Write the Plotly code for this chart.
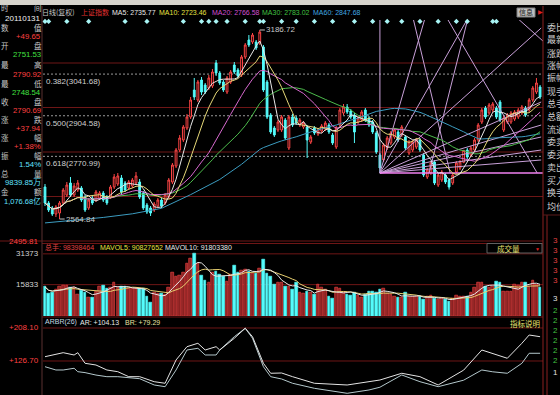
import plotly.graph_objects as go
import pandas as pd

W, H = 560, 395

# ---------------- data ----------------
opens = [2670.2, 2617.5, 2601.1, 2581.3, 2584.6, 2617.5, 2643.8, 2683.3, 2643.8, 2660.3,
         2666.9, 2637.3, 2601.1, 2634.0, 2627.4, 2634.0, 2650.4, 2637.3, 2637.3, 2670.2,
         2680.0, 2699.8, 2683.3, 2666.9, 2673.5, 2683.3, 2686.6, 2650.4, 2610.9, 2601.1,
         2594.5, 2607.7, 2627.4, 2617.5, 2637.3, 2686.6, 2739.3, 2791.9, 2824.8, 2864.3,
         2900.5, 2989.3, 2956.4, 3022.2, 3005.8, 2995.9, 3002.5, 3078.1, 3045.2, 3015.6,
         2982.7, 3015.6, 3071.6, 3055.1, 3038.7, 3097.9, 3153.8, 3147.2, 3147.2, 3143.9,
         3130.8, 3015.6, 2907.0, 2864.3, 2857.7, 2857.7, 2890.6, 2798.5, 2900.5, 2897.2,
         2874.1, 2867.6, 2867.6, 2818.2, 2864.3, 2844.5, 2854.4, 2861.0, 2874.1, 2841.2,
         2801.8, 2874.1, 2913.6, 2933.4, 2920.2, 2907.0, 2884.0, 2890.6, 2923.5, 2897.2,
         2884.0, 2847.8, 2775.4, 2759.0, 2798.5, 2814.9, 2834.7, 2851.1, 2841.2, 2834.7,
         2782.0, 2791.9, 2801.8, 2824.8, 2775.4, 2703.1, 2716.2, 2752.4, 2676.7, 2693.2,
         2709.6, 2693.2, 2683.3, 2719.5, 2732.7, 2751.53, 2791.9, 2775.4, 2791.9, 2824.8,
         2884.0, 2930.1, 2913.6, 2923.5, 2930.1, 2949.8, 2857.7, 2884.0, 2884.0, 2893.9,
         2900.5, 2913.6, 2930.1, 2923.5, 2956.4, 2982.7, 2999.2]
highs = [2680.0, 2624.1, 2607.7, 2610.9, 2624.1, 2666.9, 2686.6, 2703.1, 2683.3, 2693.2,
         2673.5, 2643.8, 2634.0, 2640.6, 2660.3, 2657.0, 2657.0, 2643.8, 2676.7, 2712.9,
         2716.2, 2709.6, 2689.9, 2693.2, 2699.8, 2719.5, 2696.5, 2657.0, 2617.5, 2607.7,
         2620.8, 2634.0, 2634.0, 2650.4, 2699.8, 2749.1, 2798.5, 2841.2, 2874.1, 2910.3,
         2966.3, 3028.8, 3022.2, 3032.1, 3012.3, 3038.7, 3058.4, 3088.0, 3051.8, 3022.2,
         3035.4, 3055.1, 3081.4, 3061.7, 3104.5, 3143.9, 3170.2, 3176.8, 3153.8, 3186.72,
         3137.4, 3022.2, 2913.6, 2870.9, 2890.6, 2907.0, 2897.2, 2907.0, 2910.3, 2903.8,
         2897.2, 2887.3, 2874.1, 2841.2, 2870.9, 2864.3, 2877.4, 2887.3, 2880.7, 2847.8,
         2870.9, 2930.1, 2943.2, 2943.2, 2926.8, 2913.6, 2903.8, 2923.5, 2930.1, 2903.8,
         2890.6, 2854.4, 2782.0, 2814.9, 2838.0, 2854.4, 2864.3, 2857.7, 2874.1, 2841.2,
         2824.8, 2824.8, 2831.4, 2831.4, 2782.0, 2732.7, 2755.7, 2759.0, 2716.2, 2726.1,
         2716.2, 2699.8, 2716.2, 2755.7, 2759.0, 2790.92, 2798.5, 2805.1, 2831.4, 2880.7,
         2930.1, 2936.7, 2946.5, 2949.8, 2936.7, 2956.4, 2903.8, 2913.6, 2920.2, 2923.5,
         2930.1, 2939.9, 2936.7, 2963.0, 3002.5, 3028.8, 3005.8]
lows = [2607.7, 2587.9, 2574.8, 2571.5, 2564.84, 2610.9, 2637.3, 2637.3, 2637.3, 2653.7,
        2620.8, 2587.9, 2594.5, 2610.9, 2620.8, 2627.4, 2620.8, 2610.9, 2630.7, 2663.6,
        2673.5, 2647.1, 2653.7, 2660.3, 2666.9, 2676.7, 2630.7, 2594.5, 2581.3, 2574.8,
        2587.9, 2601.1, 2601.1, 2610.9, 2630.7, 2680.0, 2732.7, 2785.3, 2818.2, 2857.7,
        2893.9, 2956.4, 2949.8, 2972.8, 2976.1, 2989.3, 2995.9, 3035.4, 3005.8, 2982.7,
        2976.1, 3009.0, 3041.9, 3028.8, 3032.1, 3091.3, 3130.8, 3140.6, 3120.9, 3137.4,
        2982.7, 2893.9, 2844.5, 2834.7, 2851.1, 2851.1, 2824.8, 2791.9, 2867.6, 2874.1,
        2867.6, 2861.0, 2765.6, 2811.6, 2841.2, 2838.0, 2847.8, 2854.4, 2844.5, 2808.3,
        2795.2, 2867.6, 2907.0, 2910.3, 2893.9, 2814.9, 2877.4, 2884.0, 2884.0, 2867.6,
        2844.5, 2778.7, 2716.2, 2752.4, 2791.9, 2808.3, 2828.1, 2818.2, 2834.7, 2791.9,
        2775.4, 2785.3, 2795.2, 2785.3, 2703.1, 2696.5, 2709.6, 2676.7, 2670.2, 2686.6,
        2680.0, 2661.45, 2676.7, 2712.9, 2726.1, 2748.54, 2762.3, 2768.9, 2785.3, 2818.2,
        2877.4, 2893.9, 2907.0, 2916.9, 2893.9, 2884.0, 2851.1, 2877.4, 2877.4, 2887.3,
        2893.9, 2907.0, 2900.5, 2916.9, 2949.8, 2976.1, 2959.5]
closes = [2617.5, 2594.5, 2581.3, 2604.4, 2617.5, 2660.3, 2676.7, 2643.8, 2673.5, 2683.3,
          2627.4, 2594.5, 2627.4, 2617.5, 2653.7, 2650.4, 2627.4, 2617.5, 2670.2, 2703.1,
          2706.4, 2653.7, 2660.3, 2686.6, 2693.2, 2706.4, 2637.3, 2601.1, 2587.9, 2584.6,
          2614.2, 2627.4, 2607.7, 2643.8, 2693.2, 2742.5, 2791.9, 2831.4, 2867.6, 2900.5,
          2956.4, 2966.3, 3015.6, 2982.7, 2982.7, 3028.8, 3048.5, 3045.2, 3012.3, 2989.3,
          3028.8, 3048.5, 3048.5, 3035.4, 3097.9, 3137.4, 3137.4, 3170.2, 3127.5, 3180.0,
          2989.3, 2900.5, 2851.1, 2841.2, 2884.0, 2900.5, 2831.4, 2900.5, 2874.1, 2880.7,
          2890.6, 2880.7, 2824.8, 2834.7, 2847.8, 2857.7, 2870.9, 2880.7, 2851.1, 2814.9,
          2864.3, 2923.5, 2933.4, 2916.9, 2900.5, 2851.1, 2897.2, 2916.9, 2890.6, 2874.1,
          2851.1, 2785.3, 2732.7, 2808.3, 2831.4, 2847.8, 2857.7, 2824.8, 2867.6, 2798.5,
          2818.2, 2818.2, 2824.8, 2791.9, 2709.6, 2726.1, 2749.1, 2683.3, 2709.6, 2719.5,
          2686.6, 2670.2, 2709.6, 2749.1, 2752.75, 2790.69, 2768.9, 2798.5, 2824.8, 2874.1,
          2923.5, 2900.5, 2939.9, 2943.2, 2900.5, 2890.6, 2897.2, 2907.0, 2913.6, 2916.9,
          2923.5, 2933.4, 2907.0, 2956.4, 2995.9, 3012.3, 2966.3]
# volume, 万手
volumes = [14700, 11270, 11760, 13230, 14700, 15190, 15190, 14210, 14210, 10780,
           12740, 11760, 9310, 9310, 12250, 14700, 15190, 13720, 14210, 16660,
           14210, 14700, 14700, 13720, 13720, 13720, 13720, 13720, 9800, 6860,
           11760, 11270, 11270, 10780, 14210, 22050, 20090, 20580, 22050, 26460,
           28910, 31360, 26460, 20580, 18130, 17150, 22050, 22540, 21070, 20090,
           17640, 21070, 25480, 22050, 23030, 23520, 22540, 21560, 21560, 24010,
           28420, 21560, 20090, 15680, 16660, 16660, 14700, 14700, 13230, 17150,
           11760, 11270, 12250, 11760, 10780, 15680, 14210, 13230, 9800, 8820,
           14210, 13720, 11760, 10780, 10290, 11760, 10290, 9310, 10780, 12250,
           12250, 11760, 13230, 13720, 11270, 10780, 9800, 9310, 9310, 11760,
           9800, 9800, 9800, 9800, 8330, 9800, 10290, 8820, 8330, 8820,
           8330, 7350, 8820, 10290, 9800, 9839.85, 9800, 11760, 14210, 17150,
           17150, 14700, 14210, 14700, 17640, 16660, 12250, 12250, 12250, 15680,
           15190, 17150, 17150, 14700, 18130, 15680, 14210]

# MA60 before 60 days of history are available
ma60_early_idx = [0, 8, 16, 24, 32, 40, 48, 54]
ma60_early_val = [2552, 2560, 2570, 2582, 2600, 2645, 2695, 2745]

# ARBR(26)
arbr_idx = [0, 3, 5, 8, 9, 11, 14, 17, 20, 23, 26, 30, 33, 36, 39, 42, 44, 47, 48, 52,
            55, 57, 60, 62, 65, 68, 74, 83, 89, 92, 98, 103, 108, 115, 120, 123, 127, 131, 133, 136]
ar_vals = [137.3, 144.0, 147.2, 141.5, 147.2, 121.0, 116.8, 104.5, 100.3, 88.0,
           88.0, 75.6, 71.7, 129.2, 162.0, 170.4, 153.8, 162.0, 153.8, 182.7,
           207.4, 186.6, 121.0, 96.4, 97.1, 88.0, 71.7, 67.5, 75.6, 79.8,
           96.4, 88.0, 67.5, 104.1, 153.8, 145.7, 133.4, 170.4, 190.8, 186.6]
br_vals = [112.6, 104.5, 104.5, 108.7, 100.3, 98.0, 92.0, 88.0, 88.0, 86.0,
           83.0, 67.5, 63.3, 104.5, 153.8, 158.0, 141.5, 141.5, 153.8, 186.6,
           207.4, 182.7, 112.6, 88.0, 82.3, 71.7, 59.3, 47.0, 55.2, 62.0,
           92.2, 75.6, 63.3, 79.3, 104.5, 100.0, 96.4, 121.0, 145.7, 145.7]

info_mine_idx = [0, 1, 6, 12, 22, 28, 38, 43, 45, 47, 50, 55, 59, 60, 65, 69, 74, 79,
                 85, 90, 94, 98, 103, 108, 113, 116, 123, 124]

fib_ratios = [0.382, 0.500, 0.618]
fib_prices = [3041.68, 2904.58, 2770.99]
price_grid = [3078.1, 2931.7, 2785.3, 2638.9]
price_bottom_label = "2495.81"
vol_ticks = [31373, 15833]
arbr_ticks = [208.10, 126.70]
peak_idx, peak_val = 59, 3186.72
trough_idx, trough_val = 4, 2564.84

# user-drawn fan lines (index, price) pairs
fan_lines = [
    ((92, 2716.2), (92, 3230.0)),
    ((92, 2716.2), (104.4, 3226.2)),
    ((92, 2716.2), (116.2, 3226.2)),
    ((92, 2716.2), (136.3, 3193.3)),
    ((92, 2716.2), (136.3, 2949.8)),
    ((92, 2716.2), (136.3, 2874.1)),
    ((92, 2716.2), (136.3, 2834.7)),
    ((92, 2716.2), (136.3, 2791.9)),
    ((92, 2716.2), (136.3, 2759.0)),
    ((101.1, 3226.2), (111.3, 2716.2)),
    ((110.4, 3226.2), (135.2, 2716.2)),
    ((129.7, 3226.2), (137.4, 3143.9)),
    ((116.2, 3226.2), (105.5, 2716.2)),
]
fan_base = ((92, 2716.2), (136.8, 2716.2))

# ---------------- derived ----------------
N = len(closes)
idx = list(range(N))
cs = pd.Series(closes)
ma5 = cs.rolling(5, min_periods=1).mean()
ma10 = cs.rolling(10, min_periods=1).mean()
ma20 = cs.rolling(20, min_periods=1).mean()
ma30 = cs.rolling(30, min_periods=1).mean()
ma60 = cs.rolling(60).mean()
x60 = ma60_early_idx + list(range(59, N))
y60 = ma60_early_val + list(ma60[59:])
vs = pd.Series(volumes)
mavol5 = vs.rolling(5, min_periods=1).mean()
mavol10 = vs.rolling(10, min_periods=1).mean()


def px(x):
    return x / W


def py(y):
    return 1 - y / H


RED = '#ff4646'
CYAN = '#54fcfc'
GRID = '#6e1616'
XR = [-0.55, 136.8]
XDOM = [px(43), px(543)]

fig = go.Figure()

# fan lines (under candles)
for (a, b) in fan_lines:
    fig.add_trace(go.Scatter(x=[a[0], b[0]], y=[a[1], b[1]], mode='lines',
                             line=dict(color='#c8a0d8', width=1), hoverinfo='skip',
                             showlegend=False, xaxis='x', yaxis='y'))
fig.add_trace(go.Scatter(x=[fan_base[0][0], fan_base[1][0]], y=[fan_base[0][1], fan_base[1][1]],
                         mode='lines', line=dict(color='#f080f0', width=1.3), hoverinfo='skip',
                         showlegend=False, xaxis='x', yaxis='y'))

fig.add_trace(go.Candlestick(
    x=idx, open=opens, high=highs, low=lows, close=closes,
    increasing=dict(line=dict(color=RED, width=1), fillcolor='#000000'),
    decreasing=dict(line=dict(color=CYAN, width=1), fillcolor=CYAN),
    whiskerwidth=0, xaxis='x', yaxis='y', showlegend=False, hoverinfo='skip'))

for xs, ys, col in [(x60, y60, '#3c9cc0'), (idx, ma30, '#4cbc4c'), (idx, ma20, '#d86ad0'),
                    (idx, ma10, '#e6d878'), (idx, ma5, '#e8e8e8')]:
    fig.add_trace(go.Scatter(x=list(xs), y=list(ys), mode='lines', line=dict(color=col, width=1),
                             hoverinfo='skip', showlegend=False, xaxis='x', yaxis='y'))

fig.add_trace(go.Scatter(x=info_mine_idx, y=[3215] * len(info_mine_idx), mode='markers',
                         marker=dict(symbol='diamond', size=4, color='#a8f4f4'),
                         cliponaxis=False, hoverinfo='skip', showlegend=False,
                         xaxis='x', yaxis='y'))

# volume
up = [c >= o for o, c in zip(opens, closes)]
fig.add_trace(go.Bar(x=idx, y=volumes, width=0.72,
                     marker=dict(color=['#8a2222' if u else CYAN for u in up],
                                 line=dict(color=[RED if u else CYAN for u in up], width=0.6)),
                     xaxis='x2', yaxis='y2', showlegend=False, hoverinfo='skip'))
fig.add_trace(go.Scatter(x=idx, y=mavol10, mode='lines', line=dict(color='#e8d070', width=1),
                         xaxis='x2', yaxis='y2', showlegend=False, hoverinfo='skip'))
fig.add_trace(go.Scatter(x=idx, y=mavol5, mode='lines', line=dict(color='#e8e8e8', width=1),
                         xaxis='x2', yaxis='y2', showlegend=False, hoverinfo='skip'))

# ARBR
fig.add_trace(go.Scatter(x=arbr_idx, y=br_vals, mode='lines', line=dict(color='#b4c8cc', width=1),
                         xaxis='x3', yaxis='y3', showlegend=False, hoverinfo='skip'))
fig.add_trace(go.Scatter(x=arbr_idx, y=ar_vals, mode='lines', line=dict(color='#e4e4e4', width=1),
                         xaxis='x3', yaxis='y3', showlegend=False, hoverinfo='skip'))

shapes = []
# top menu strip
shapes.append(dict(type='rect', xref='paper', yref='paper', x0=0, x1=1, y0=py(5), y1=1,
                   fillcolor='#d6d3cc', line=dict(width=0), layer='above'))
# main grid
for p in price_grid:
    shapes.append(dict(type='line', xref='paper', yref='y', x0=XDOM[0], x1=XDOM[1], y0=p, y1=p,
                       line=dict(color=GRID, width=1), layer='below'))
for p in fib_prices:
    shapes.append(dict(type='line', xref='paper', yref='y', x0=XDOM[0], x1=XDOM[1], y0=p, y1=p,
                       line=dict(color='#9a9a9a', width=1, dash='2px,2px'), layer='below'))
for p in vol_ticks:
    shapes.append(dict(type='line', xref='paper', yref='y2', x0=XDOM[0], x1=XDOM[1], y0=p, y1=p,
                       line=dict(color=GRID, width=1), layer='below'))
for p in arbr_ticks:
    shapes.append(dict(type='line', xref='paper', yref='y3', x0=XDOM[0], x1=XDOM[1], y0=p, y1=p,
                       line=dict(color=GRID, width=1), layer='below'))
# panel borders
for yy, x0 in [(241, 0), (243.5, 42), (317, 42)]:
    shapes.append(dict(type='line', xref='paper', yref='paper', x0=px(x0), x1=px(543),
                       y0=py(yy), y1=py(yy), line=dict(color=GRID, width=1)))
shapes.append(dict(type='line', xref='paper', yref='paper', x0=px(42), x1=px(42), y0=0, y1=py(6),
                   line=dict(color='#5a3030', width=1)))
shapes.append(dict(type='line', xref='paper', yref='paper', x0=px(543), x1=px(543), y0=0, y1=py(6),
                   line=dict(color='#8a2020', width=1)))
shapes.append(dict(type='line', xref='paper', yref='paper', x0=px(547), x1=px(547), y0=0, y1=py(215),
                   line=dict(color='#8a2020', width=1)))
shapes.append(dict(type='line', xref='paper', yref='paper', x0=px(543), x1=1, y0=py(215), y1=py(215),
                   line=dict(color='#5a1a1a', width=1)))
# 成交量 box
shapes.append(dict(type='rect', xref='paper', yref='paper', x0=px(487), x1=px(542),
                   y0=py(253), y1=py(243.5), fillcolor='#000000', line=dict(color='#606060', width=1)))
# info box top right
shapes.append(dict(type='rect', xref='paper', yref='paper', x0=px(517), x1=px(535),
                   y0=py(17), y1=py(8), fillcolor='#bdbdbd', line=dict(color='#808080', width=1)))
# peak / trough ticks
shapes.append(dict(type='line', xref='x', yref='y', x0=peak_idx, x1=peak_idx + 1.4,
                   y0=peak_val, y1=peak_val, line=dict(color='#c0c0c0', width=1)))
shapes.append(dict(type='line', xref='x', yref='y', x0=trough_idx, x1=trough_idx + 1.4,
                   y0=trough_val, y1=trough_val, line=dict(color='#c0c0c0', width=1)))

ann = []
NUM = 'Liberation Sans, Arial, sans-serif'
CJK = 'Noto Sans CJK SC, sans-serif'


def text(x, y, s, color, size=8, anchor='left', fam=NUM, xref='paper', yref='paper'):
    ann.append(dict(x=x, y=y, xref=xref, yref=yref, text=s, showarrow=False,
                    xanchor=anchor, yanchor='middle', borderpad=0,
                    font=dict(family=fam, size=size, color=color)))


# header row
header = [("日线(复权)", 41, '#c8c8c8', CJK), ("上证指数", 80, '#e03030', CJK),
          ("MA5: 2735.77", 111, '#e8e8e8', NUM), ("MA10: 2723.46", 158, '#e6e040', NUM),
          ("MA20: 2766.58", 211, '#d050d0', NUM), ("MA30: 2783.02", 261, '#40c040', NUM),
          ("MA60: 2847.68", 312, '#40a8e0', NUM)]
for s, x, c, f in header:
    text(px(x), py(12), s, c, size=7, fam=f)
text(px(526), py(12.5), "信息", '#202020', size=7, anchor='center', fam=CJK)
text(px(540), py(12.5), "▶", '#e02020', size=6, anchor='center')

# left info panel
left_chars = ["时", "数", "开", "最", "最", "收", "涨", "涨", "振", "总", "金"]
right_chars = ["间", "值", "盘", "高", "低", "盘", "跌", "幅", "幅", "量", "额"]
char_rows = [8, 27, 45.5, 64.5, 83, 101, 119, 137, 155, 173, 192]
for a, b, yy in zip(left_chars, right_chars, char_rows):
    text(px(0), py(yy), a, '#c8c8c8', size=7.5, fam=CJK)
    text(px(33), py(yy), b, '#c8c8c8', size=7.5, fam=CJK)
text(px(42), py(18.5), "20110131", '#f0f0f0', size=8, anchor='right')
left_vals = ["+49.65", "2751.53", "2790.92", "2748.54", "2790.69", "+37.94", "+1.38%",
             "1.54%", "9839.85万", "1,076.68亿"]
left_cols = ['#ff4040', '#40e040', '#ff4040', '#40e040', '#ff4040', '#ff4040', '#ff4040',
             '#60e0ff', '#60e0ff', '#60e0ff']
val_rows = [36.5, 55, 74, 92.5, 110.5, 128.5, 146.5, 164.5, 182.5, 201]
for s, c, yy in zip(left_vals, left_cols, val_rows):
    text(px(42), py(yy), s, c, size=7.8 if len(s) < 9 else 7.5, anchor='right',
         fam=NUM + ', ' + CJK)

# axis labels on the left
text(px(39), py(241.5), price_bottom_label, '#ff4040', size=8, anchor='right')
for v in vol_ticks:
    text(px(40), v, f"{v}", '#d0d0d0', size=8, anchor='right', yref='y2')
for v in arbr_ticks:
    text(px(40), v, f"+{v:.2f}", '#ff4040', size=8, anchor='right', yref='y3')

# fibonacci labels
for r, p in zip(fib_ratios, fib_prices):
    ann.append(dict(x=px(44), y=p, xref='paper', yref='y', text=f"{r:.3f}({p:.2f})",
                    showarrow=False, xanchor='left', yanchor='top', yshift=-1,
                    font=dict(family=NUM, size=8, color='#d0d0d0')))

text(peak_idx + 1.5, peak_val, f"{peak_val:.2f}", '#c8c8c8', size=8, xref='x', yref='y')
text(trough_idx + 1.5, trough_val, f"{trough_val:.2f}", '#c8c8c8', size=8, xref='x', yref='y')

# volume header
text(px(44), py(247.5), "总手: 98398464", '#e04040', size=7, fam=NUM + ', ' + CJK)
text(px(99), py(247.5), "MAVOL5: 90827652", '#e6e040', size=7)
text(px(164), py(247.5), "MAVOL10: 91803380", '#e8e8e8', size=7)
text(px(508), py(248.5), "成交量", '#e8e070', size=7.5, anchor='center', fam=CJK)
text(px(537), py(248.5), "▼", '#e02020', size=5, anchor='center')

# ARBR header
text(px(44), py(322), "ARBR(26)", '#c0d8e0', size=7)
text(px(79), py(322), "AR: +104.13", '#e8e8e8', size=7)
text(px(124), py(322), "BR: +79.29", '#e8e0a0', size=7)
text(px(541), py(323), "指标说明", '#e8e070', size=7.5, anchor='right', fam=CJK)

# right info panel
right_labels = ["委比", "最新", "涨跌", "涨幅", "振幅", "现手", "总手", "总额", "流通",
                "委卖", "委买", "卖出", "买入", "换手", "均价"]
right_rows = [27, 40, 53, 65.5, 78, 91, 103.5, 116.5, 129, 142, 154.5, 167, 180, 193, 206]
for s, yy in zip(right_labels, right_rows):
    text(px(546), py(yy), s, '#d0d0d0', size=9, fam=CJK)
ladder = ["3", "3", "3", "3", "3", "3", "2", "2", "2", "2", "2", "2", "1"]
ladder_cols = ['#e04040'] * 5 + ['#e0e0e0'] + ['#40c040'] * 6 + ['#e0e0e0']
ladder_rows = [240, 250, 260, 270, 280, 298, 310, 320, 330, 340, 350, 360, 372]
for s, c, yy in zip(ladder, ladder_cols, ladder_rows):
    text(px(552), py(yy), s, c, size=8)

axis_common = dict(visible=False, showgrid=False, zeroline=False, fixedrange=True)
fig.update_layout(
    width=W, height=H, margin=dict(l=0, r=0, t=0, b=0),
    paper_bgcolor='#000000', plot_bgcolor='#000000',
    showlegend=False, shapes=shapes, annotations=ann, bargap=0,
    xaxis=dict(domain=XDOM, range=XR, anchor='y', rangeslider=dict(visible=False), **axis_common),
    xaxis2=dict(domain=XDOM, range=XR, anchor='y2', **axis_common),
    xaxis3=dict(domain=XDOM, range=XR, anchor='y3', **axis_common),
    yaxis=dict(domain=[py(240), py(20)], range=[2495.81, 3219.6], anchor='x', **axis_common),
    yaxis2=dict(domain=[py(316), py(243.5)], range=[0, 36595], anchor='x2', **axis_common),
    yaxis3=dict(domain=[0, py(317)], range=[42.8, 235.2], anchor='x3', **axis_common),
)

fig.write_html("out.html", config={'displayModeBar': False},
               post_script="document.body.style.margin='0';document.body.style.padding='0';"
                           "document.body.style.overflow='hidden';")
